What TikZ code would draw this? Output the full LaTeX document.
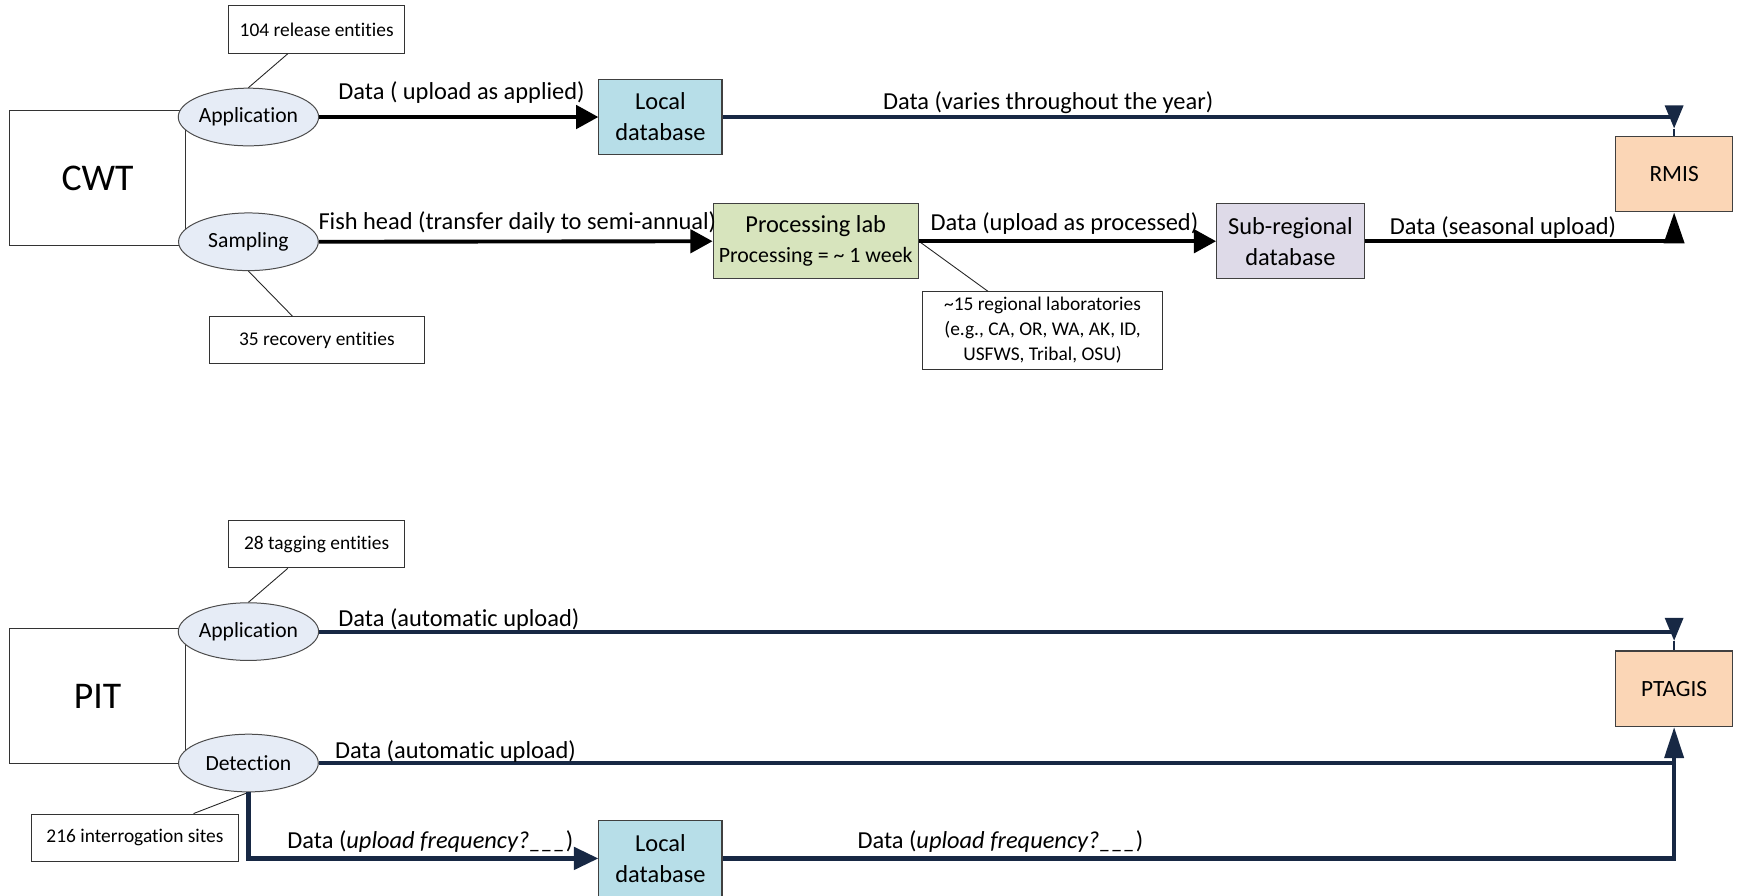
\documentclass[tikz,border=0pt]{standalone}
\usepackage{fontspec}
\setmainfont{Carlito}[Ligatures=CommonOff]
\usetikzlibrary{arrows.meta,shapes.geometric}

\definecolor{navy}{RGB}{23,40,68}
\definecolor{dbblue}{RGB}{183,222,232}
\definecolor{labgreen}{RGB}{215,228,189}
\definecolor{sublav}{RGB}{222,218,232}
\definecolor{peach}{RGB}{251,214,182}
\definecolor{ellfill}{RGB}{230,236,246}

\begin{document}
\begin{tikzpicture}[x=1pt,y=-1pt,
  every node/.style={inner sep=0pt},
  tagbox/.style={draw=black!80, line width=0.9pt, fill=white, align=center,
    font=\fontsize{17.5}{22.5}\selectfont},
  techbox/.style={draw=black!80, line width=0.9pt, fill=white,
    minimum width=158.5pt, minimum height=121pt, font=\fontsize{34}{40}\selectfont},
  procbox/.style={draw=black!75, line width=1pt, align=center,
    font=\fontsize{22}{28}\selectfont},
  phase/.style={ellipse, draw=black!70, line width=0.9pt, fill=ellfill,
    minimum width=126pt, minimum height=52pt, font=\fontsize{19.5}{22}\selectfont},
  flowlbl/.style={anchor=base west, font=\fontsize{22}{26}\selectfont},
  blackflow/.style={line width=3.5pt, draw=black},
  navyflow/.style={line width=3.8pt, draw=navy},
  callout/.style={line width=0.8pt, draw=black!85},
  headH/.style={-{Triangle[length=20pt,width=21pt]}},
]
\useasboundingbox (0,0) rectangle (1568,807);

% ---------------- CWT ----------------
\node[techbox] (cwt) at (88,160.5) {CWT};
\node[tagbox, minimum width=158.5pt, minimum height=43pt] (rel) at (285.5,26.5) {104 release entities};
\node[tagbox, minimum width=194.5pt, minimum height=42.5pt] (rec) at (285.7,306.8) {35 recovery entities};
\node[phase] (app1) at (224,105.5) {Application};
\node[phase] (samp) at (224,218) {Sampling};

\node[procbox, fill=dbblue, minimum width=111pt, minimum height=68pt] (ldb1) at (595.5,105.5) {Local\\database};
\node[procbox, fill=labgreen, minimum width=185pt, minimum height=68pt] (proc) at (735.5,217.5)
  {Processing lab\\[-1pt]{\fontsize{19.7}{24}\selectfont Processing = \textasciitilde{} 1 week}};
\node[procbox, fill=sublav, minimum width=133pt, minimum height=68pt] (sub) at (1163.5,217.5) {Sub-regional\\database};
\node[procbox, fill=peach, minimum width=105pt, minimum height=68pt, font=\fontsize{21}{25}\selectfont] (rmis) at (1509.5,157) {RMIS};
\node[tagbox, minimum width=217pt, minimum height=69.5pt] (labs) at (940,298)
  {\textasciitilde15 regional laboratories\\(e.g., CA, OR, WA, AK, ID,\\USFWS, Tribal, OSU)};

\draw[callout] ([xshift=-26pt]rel.south) -- (app1.north);
\draw[callout] (samp.south) -- ([xshift=-22pt]rec.north);
\draw[callout] (proc.east) -- ([xshift=-49pt]labs.north);

\draw[blackflow, headH] (app1.east) -- (ldb1.west);
\draw[blackflow, headH] (samp.east) -- (proc.west);
\draw[blackflow, headH] (proc.east) -- (sub.west);

\coordinate (rmisIn) at (1509.5,116);
\draw[navyflow, -{Triangle[length=21pt,width=16pt]}] (ldb1.east) -| (rmisIn);
\draw[navy, line width=2pt] (rmisIn) -- (rmis.north);
\draw[blackflow, -{Triangle[length=28pt,width=18pt]}] (sub.east) -| (rmis.south);

\node[flowlbl] (l1) at (305,89.5) {Data ( upload as applied)};
\node[flowlbl] (l2) at (796,99) {Data (varies throughout the year)};
\node[flowlbl] (l3) at (287,207) {Fish head (transfer daily to semi-annual)};
\node[flowlbl] (l4) at (839,207.5) {Data (upload as processed)};
\node[flowlbl] (l5) at (1253,211) {Data (seasonal upload)};

% ---------------- PIT ----------------
\node[techbox] (pit) at (88,627.5) {PIT};
\node[tagbox, minimum width=158.5pt, minimum height=43pt] (tag) at (285.5,490.5) {28 tagging entities};
\node[tagbox, minimum width=186.5pt, minimum height=43pt] (sites) at (121.7,755.5) {216 interrogation sites};
\node[phase] (app2) at (224,569.5) {Application};
\node[phase] (det) at (224,688) {Detection};

\node[procbox, fill=dbblue, minimum width=111pt, minimum height=68pt] (ldb2) at (595.5,774) {Local\\database};
\node[procbox, fill=peach, minimum width=105pt, minimum height=68pt, font=\fontsize{21}{25}\selectfont] (ptagis) at (1509.5,621) {PTAGIS};

\draw[callout] ([xshift=-26pt]tag.south) -- (app2.north);
\draw[callout] (det.south) -- ([xshift=52.8pt]sites.north);

\coordinate (ptIn) at (1509.5,578);
\draw[navyflow, -{Triangle[length=21pt,width=16pt]}] (app2.east) -| (ptIn);
\draw[navy, line width=2pt] (ptIn) -- (ptagis.north);

\coordinate (ptJoin) at (1509.5,688);
\draw[navyflow] (ldb2.east) -| (ptJoin);
\draw[navyflow, -{Triangle[length=28pt,width=17pt]}] (det.east) -| (ptagis.south);
\draw[navyflow, -{Triangle[length=22pt,width=20pt]}] (det.south) |- (ldb2.west);

\node[flowlbl] (l6) at (305,565) {Data (automatic upload)};
\node[flowlbl] (l7) at (302,683.5) {Data (automatic upload)};
\node[flowlbl] (l8) at (259,765) {Data (\textit{upload frequency?\_\_\_})};
\node[flowlbl] (l9) at (773,765) {Data (\textit{upload frequency?\_\_\_})};
\end{tikzpicture}
\end{document}
